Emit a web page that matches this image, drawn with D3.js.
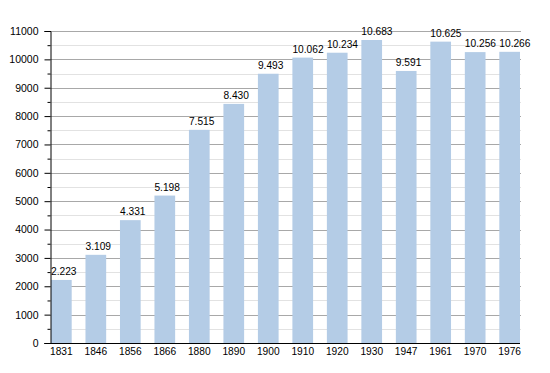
<!DOCTYPE html>
<html>
<head>
<meta charset="utf-8">
<script src="https://cdn.jsdelivr.net/npm/d3@7"></script>
<style>
  body { margin: 0; background: #fff; }
  text { font-family: "Liberation Sans", Arial, sans-serif; }
</style>
</head>
<body>
<script>
// years and population values
var years = ["1831", "1846", "1856", "1866", "1880", "1890", "1900", "1910", "1920", "1930", "1947", "1961", "1970", "1976"];
var population = [2223, 3109, 4331, 5198, 7515, 8430, 9493, 10062, 10234, 10683, 9591, 10625, 10256, 10266];
var majorTicks = [0, 1000, 2000, 3000, 4000, 5000, 6000, 7000, 8000, 9000, 10000, 11000];
var minorTicks = [500, 1500, 2500, 3500, 4500, 5500, 6500, 7500, 8500, 9500, 10500];

// plot area (note: "top" is reserved on window, so use plotTop)
var width = 550, height = 373;
var plotLeft = 50.5, plotRight = 520, plotTop = 31, plotBottom = 343;

var svg = d3.select("body").append("svg")
    .attr("width", width)
    .attr("height", height);

var x = d3.scaleBand()
    .domain(years)
    .range([plotLeft + 0.5, plotRight])
    .paddingInner(0.4)
    .paddingOuter(0);

var y = d3.scaleLinear()
    .domain([0, 11000])
    .range([plotBottom, plotTop]);

// minor gridlines
svg.append("g").selectAll("line")
    .data(minorTicks)
    .enter().append("line")
    .attr("x1", plotLeft).attr("x2", plotRight + 1)
    .attr("y1", function(d) { return Math.round(y(d)) + 0.5; })
    .attr("y2", function(d) { return Math.round(y(d)) + 0.5; })
    .attr("stroke", "#e2e2e2");

// major gridlines
svg.append("g").selectAll("line")
    .data(majorTicks.slice(1))
    .enter().append("line")
    .attr("x1", plotLeft).attr("x2", plotRight + 1)
    .attr("y1", function(d) { return Math.round(y(d)) + 0.5; })
    .attr("y2", function(d) { return Math.round(y(d)) + 0.5; })
    .attr("stroke", "#a8a8a8");

// bars
svg.append("g").selectAll("rect")
    .data(population)
    .enter().append("rect")
    .attr("x", function(d, i) { return x(years[i]); })
    .attr("width", x.bandwidth())
    .attr("y", function(d) { return y(d); })
    .attr("height", function(d) { return plotBottom - y(d); })
    .attr("fill", "#b4cce6");

// value labels, left-aligned on the bar (dot as thousands separator)
svg.append("g").selectAll("text")
    .data(population)
    .enter().append("text")
    .attr("x", function(d, i) { return x(years[i]); })
    .attr("y", function(d) { return y(d) - 5; })
    .attr("text-anchor", "start")
    .attr("font-size", "10.2px")
    .attr("fill", "#000")
    .text(function(d) { return d3.format(",")(d).replace(",", "."); });

// y axis
var yAxis = d3.axisLeft(y)
    .tickValues(majorTicks)
    .tickSize(6)
    .tickPadding(6)
    .tickFormat(d3.format("d"));

var gy = svg.append("g")
    .attr("transform", "translate(" + plotLeft + ",0)")
    .call(yAxis);
gy.select(".domain").attr("stroke", "#000");
gy.selectAll(".tick text").attr("font-size", "10.5px").attr("font-family", "Liberation Sans, Arial, sans-serif");

var gyMinor = svg.append("g")
    .attr("transform", "translate(" + plotLeft + ",0)")
    .call(d3.axisLeft(y).tickValues(minorTicks).tickSize(3).tickFormat(""));
gyMinor.select(".domain").remove();

// x axis
var xAxis = d3.axisBottom(x)
    .tickSize(0)
    .tickPadding(5);
var gx = svg.append("g")
    .attr("transform", "translate(0," + plotBottom + ")")
    .call(xAxis);
gx.select(".domain").attr("d", "M" + (plotLeft - 6) + ",0.5H" + plotRight);
gx.selectAll(".tick text").attr("font-size", "10.2px").attr("font-family", "Liberation Sans, Arial, sans-serif");
</script>
</body>
</html>
